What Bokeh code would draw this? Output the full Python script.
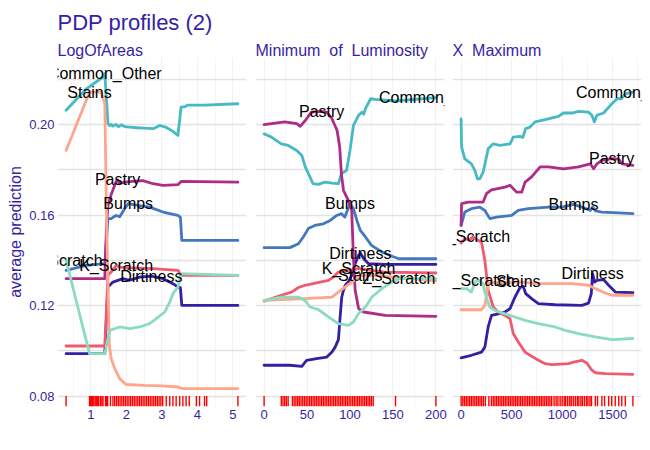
from bokeh.plotting import figure
from bokeh.models import Range1d, FixedTicker, Title, PrintfTickFormatter
from bokeh.layouts import row
from bokeh.embed import file_html
from bokeh.resources import INLINE
from bokeh.core.properties import value

# ---------------- data ----------------
CLASSES = ["Bumps", "Dirtiness", "K_Scratch", "Other_Faults", "Pastry", "Stains", "Z_Scratch"]
LABELS = ["Bumps", "Dirtiness", "K_Scratch", "Common_Other", "Pastry", "Stains", "Z_Scratch"]
COLORS = ["#4378bf", "#371ea3", "#f05a71", "#46bac2", "#ae2c87", "#ffa58c", "#8bdcbe"]

PANEL_TITLES = ["LogOfAreas", "Minimum\u00a0\u00a0of\u00a0\u00a0Luminosity", "X\u00a0\u00a0Maximum"]
MAIN_TITLE = "PDP profiles (2)"
Y_LABEL = "average prediction"
Y_TICKS = [0.08, 0.12, 0.16, 0.20]
Y_MINOR = [0.10, 0.14, 0.18, 0.22]

# --- panel 1: LogOfAreas ---
LOA_X_TICKS = [1, 2, 3, 4, 5]
LOA_X_MINOR = [0.5, 1.5, 2.5, 3.5, 4.5]
LOA_BUMPS_X = [0.30, 0.87, 1.39, 1.48, 1.57, 1.62, 1.71, 1.81, 1.95, 2.05, 2.32, 2.65, 3.03, 3.45, 3.52, 3.56, 5.14]
LOA_BUMPS_Y = [0.1356, 0.1378, 0.1385, 0.1584, 0.1584, 0.1590, 0.1598, 0.1592, 0.1628, 0.1650, 0.1643, 0.1635, 0.1613, 0.1598, 0.1590, 0.1488, 0.1488]
LOA_DIRT_X = [0.30, 1.39, 1.48, 1.53, 1.62, 1.90, 2.09, 2.37, 2.70, 3.03, 3.31, 3.45, 3.52, 3.56, 5.14]
LOA_DIRT_Y = [0.0988, 0.0988, 0.1290, 0.1290, 0.1304, 0.1319, 0.1312, 0.1326, 0.1330, 0.1319, 0.1297, 0.1282, 0.1280, 0.1201, 0.1201]
LOA_KSCR_X = [0.30, 1.39, 1.48, 1.57, 1.71, 1.81, 2.28, 2.75, 3.45, 3.54, 5.14]
LOA_KSCR_Y = [0.1022, 0.1022, 0.1334, 0.1348, 0.1378, 0.1370, 0.1366, 0.1363, 0.1356, 0.1334, 0.1334]
LOA_OTHER_X = [0.30, 0.87, 1.34, 1.39, 1.48, 1.52, 1.57, 1.62, 1.70, 1.78, 1.85, 1.95, 2.09, 2.30, 2.50, 2.75, 2.94, 3.10, 3.30, 3.45, 3.54, 3.65, 3.73, 4.20, 5.14]
LOA_OTHER_Y = [0.2062, 0.2157, 0.2209, 0.2224, 0.2003, 0.1995, 0.2000, 0.1992, 0.2000, 0.1990, 0.1998, 0.1990, 0.1988, 0.1985, 0.1983, 0.1981, 0.1995, 0.1988, 0.1970, 0.1951, 0.2076, 0.2078, 0.2085, 0.2085, 0.2091]
LOA_PASTRY_X = [0.30, 1.39, 1.44, 1.48, 1.57, 1.67, 1.71, 1.75, 1.81, 1.95, 2.18, 2.46, 2.75, 3.03, 3.45, 3.54, 5.14]
LOA_PASTRY_Y = [0.1319, 0.1319, 0.1560, 0.1642, 0.1690, 0.1731, 0.1748, 0.1755, 0.1738, 0.1745, 0.1748, 0.1752, 0.1738, 0.1731, 0.1734, 0.1748, 0.1745]
LOA_STAINS_X = [0.30, 0.96, 1.29, 1.39, 1.45, 1.52, 1.57, 1.67, 1.81, 1.99, 2.50, 3.00, 3.45, 3.59, 5.14]
LOA_STAINS_Y = [0.1885, 0.2142, 0.2142, 0.2091, 0.1500, 0.1025, 0.0966, 0.0922, 0.0878, 0.0852, 0.0848, 0.0846, 0.0841, 0.0834, 0.0834]
LOA_ZSCR_X = [0.30, 0.96, 1.39, 1.53, 1.81, 2.09, 2.37, 2.65, 2.84, 3.08, 3.22, 3.31, 3.45, 3.54, 5.14]
LOA_ZSCR_Y = [0.1400, 0.0988, 0.0988, 0.1091, 0.1106, 0.1099, 0.1106, 0.1121, 0.1143, 0.1172, 0.1216, 0.1253, 0.1282, 0.1341, 0.1334]
LOA_RUG = [0.30, 0.96, 0.99, 1.02, 1.05, 1.08, 1.12, 1.15, 1.19, 1.22, 1.27, 1.31, 1.34, 1.41, 1.44,
           1.47, 1.55, 1.62, 1.67, 1.72, 1.77, 1.82, 1.87, 1.92, 1.97, 2.02, 2.07, 2.12, 2.17, 2.22,
           2.27, 2.32, 2.37, 2.42, 2.47, 2.52, 2.57, 2.62, 2.67, 2.72, 2.77, 2.82, 2.87, 2.92, 2.97,
           3.02, 3.12, 3.22, 3.31, 3.40, 3.50, 3.59, 3.68, 3.77, 3.97, 4.06, 4.20, 4.26, 5.14]

# --- panel 2: Minimum_of_Luminosity ---
MOL_X_TICKS = [0, 50, 100, 150, 200]
MOL_X_MINOR = [25, 75, 125, 175]
MOL_BUMPS_X = [0, 30, 40, 45.6, 51.5, 59, 69, 77, 84.5, 90, 94, 100, 104, 108, 112, 118, 125, 137, 149, 157, 200]
MOL_BUMPS_Y = [0.1456, 0.1456, 0.1473, 0.1503, 0.1540, 0.1554, 0.1561, 0.1576, 0.1598, 0.1606, 0.1591, 0.1650, 0.1628, 0.1576, 0.1532, 0.1503, 0.1466, 0.1437, 0.1418, 0.1407, 0.1407]
MOL_DIRT_X = [0, 30, 44, 49.5, 61, 73, 79, 82.7, 86.5, 88.5, 90.4, 92.4, 94.4, 98, 102, 106, 110, 112, 116, 121.6, 141, 200]
MOL_DIRT_Y = [0.0937, 0.0937, 0.0932, 0.0959, 0.0966, 0.0973, 0.0995, 0.1017, 0.1050, 0.1150, 0.1238, 0.1268, 0.1290, 0.1304, 0.1334, 0.1385, 0.1422, 0.1432, 0.1407, 0.1385, 0.1382, 0.1382]
MOL_KSCR_X = [0, 20, 32, 40, 47.6, 57, 65, 75, 80.7, 86.5, 98, 110, 125.5, 141, 200]
MOL_KSCR_Y = [0.1220, 0.1246, 0.1260, 0.1280, 0.1290, 0.1297, 0.1304, 0.1312, 0.1326, 0.1348, 0.1356, 0.1363, 0.1356, 0.1348, 0.1344]
MOL_OTHER_X = [0, 8.5, 20, 28, 38, 44, 48, 53.5, 57, 63, 71, 79, 86.5, 90, 96, 100, 104, 110, 114, 116, 118, 124, 129.5, 153, 200]
MOL_OTHER_Y = [0.1958, 0.1944, 0.1914, 0.1907, 0.1885, 0.1863, 0.1811, 0.1767, 0.1738, 0.1735, 0.1745, 0.1741, 0.1738, 0.1782, 0.1797, 0.1885, 0.1995, 0.2040, 0.2054, 0.2045, 0.2069, 0.2113, 0.2110, 0.2103, 0.2118]
MOL_PASTRY_X = [0, 24, 38, 42, 48, 55, 67, 73, 79, 85, 88, 90, 92.4, 98, 102, 104, 106, 110, 116, 141, 200]
MOL_PASTRY_Y = [0.1999, 0.2011, 0.2003, 0.1991, 0.2017, 0.2054, 0.2057, 0.2054, 0.2025, 0.1973, 0.1900, 0.1780, 0.1709, 0.1665, 0.1620, 0.1414, 0.1268, 0.1187, 0.1172, 0.1157, 0.1153]
MOL_STAINS_X = [0, 47.6, 79, 86.5, 94, 102, 108, 112, 133, 160.6, 200]
MOL_STAINS_Y = [0.1223, 0.1231, 0.1238, 0.1260, 0.1282, 0.1304, 0.1319, 0.1334, 0.1332, 0.1323, 0.1309]
MOL_ZSCR_X = [0, 20, 40, 47.6, 53.5, 63, 75, 86.5, 98, 104, 110, 118, 125.5, 137, 149, 157, 200]
MOL_ZSCR_Y = [0.1223, 0.1238, 0.1238, 0.1223, 0.1194, 0.1183, 0.1150, 0.1121, 0.1113, 0.1128, 0.1165, 0.1194, 0.1238, 0.1275, 0.1304, 0.1319, 0.1319]
MOL_RUG = [0, 20, 22, 24, 26, 28, 33, 35, 37, 39, 41, 43, 45, 47, 49, 51, 53, 55, 57, 59, 61, 63,
           65, 67, 69, 71, 73, 75, 77, 79, 81, 83, 85, 87, 89, 91, 93, 95, 97, 99, 101, 103, 105,
           107, 109, 111, 113, 115, 117, 119, 121, 123, 125, 127, 153, 200]

# --- panel 3: X_Maximum ---
XMX_X_TICKS = [0, 500, 1000, 1500]
XMX_X_MINOR = [250, 750, 1250, 1750]
XMX_BUMPS_X = [0, 37, 102, 186, 235, 285, 351, 500, 566, 665, 864, 996, 1112, 1195, 1278, 1301, 1330, 1393, 1559, 1700]
XMX_BUMPS_Y = [0.1554, 0.1613, 0.1628, 0.1635, 0.1620, 0.1584, 0.1591, 0.1598, 0.1620, 0.1628, 0.1635, 0.1635, 0.1647, 0.1635, 0.1620, 0.1635, 0.1618, 0.1613, 0.1609, 0.1606]
XMX_DIRT_X = [0, 102, 202, 235, 268, 301, 368, 434, 484, 533, 583, 616, 639, 698, 765, 930, 1195, 1261, 1288, 1301, 1321, 1344, 1410, 1460, 1526, 1700]
XMX_DIRT_Y = [0.0970, 0.0981, 0.0995, 0.1017, 0.1106, 0.1157, 0.1164, 0.1172, 0.1187, 0.1238, 0.1280, 0.1285, 0.1253, 0.1231, 0.1209, 0.1204, 0.1201, 0.1211, 0.1253, 0.1341, 0.1304, 0.1312, 0.1315, 0.1290, 0.1260, 0.1257]
XMX_KSCR_X = [0, 37, 80, 119, 169, 202, 235, 268, 318, 368, 434, 484, 516, 566, 633, 682, 765, 831, 897, 1063, 1112, 1195, 1244, 1294, 1328, 1427, 1700]
XMX_KSCR_Y = [0.1476, 0.1496, 0.1490, 0.1503, 0.1488, 0.1481, 0.1400, 0.1268, 0.1194, 0.1172, 0.1157, 0.1143, 0.1077, 0.1040, 0.0995, 0.0981, 0.0959, 0.0944, 0.0940, 0.0944, 0.0951, 0.0959, 0.0947, 0.0915, 0.0904, 0.0900, 0.0897]
XMX_OTHER_X = [0, 5, 37, 102, 136, 162, 186, 218, 268, 318, 384, 484, 516, 583, 610, 639, 682, 732, 831, 963, 1013, 1100, 1162, 1261, 1294, 1318, 1344, 1410, 1477, 1543, 1586, 1626, 1700]
XMX_OTHER_Y = [0.2024, 0.1900, 0.1848, 0.1826, 0.1797, 0.1760, 0.1760, 0.1789, 0.1892, 0.1914, 0.1907, 0.1914, 0.1944, 0.1947, 0.1942, 0.1981, 0.1988, 0.2011, 0.2021, 0.2035, 0.2050, 0.2050, 0.2057, 0.2054, 0.2040, 0.2011, 0.2040, 0.2050, 0.2084, 0.2113, 0.2113, 0.2135, 0.2142]
XMX_PASTRY_X = [0, 5, 70, 218, 251, 301, 434, 484, 549, 600, 633, 698, 782, 864, 1013, 1162, 1278, 1311, 1344, 1393, 1460, 1490, 1559, 1592, 1700]
XMX_PASTRY_Y = [0.1554, 0.1650, 0.1657, 0.1657, 0.1694, 0.1711, 0.1723, 0.1731, 0.1701, 0.1701, 0.1745, 0.1768, 0.1812, 0.1812, 0.1804, 0.1812, 0.1826, 0.1804, 0.1826, 0.1841, 0.1846, 0.1849, 0.1847, 0.1826, 0.1819]
XMX_STAINS_X = [0, 202, 235, 268, 301, 434, 566, 765, 1096, 1261, 1328, 1427, 1493, 1700]
XMX_STAINS_Y = [0.1182, 0.1182, 0.1201, 0.1297, 0.1303, 0.1300, 0.1305, 0.1297, 0.1297, 0.1290, 0.1275, 0.1256, 0.1246, 0.1246]
XMX_ZSCR_X = [0, 53, 102, 136, 169, 218, 235, 261, 285, 335, 434, 533, 633, 765, 930, 1030, 1162, 1328, 1493, 1700]
XMX_ZSCR_Y = [0.1275, 0.1275, 0.1260, 0.1304, 0.1312, 0.1297, 0.1260, 0.1223, 0.1194, 0.1179, 0.1164, 0.1150, 0.1135, 0.1121, 0.1106, 0.1091, 0.1077, 0.1062, 0.1050, 0.1055]
XMX_RUG = [0, 17, 34, 51, 68, 85, 102, 119, 136, 153, 170, 187, 204, 221, 240, 275, 300, 318, 335,
           352, 369, 386, 403, 420, 437, 454, 471, 488, 505, 522, 539, 556, 573, 590, 607, 624, 641,
           658, 675, 692, 709, 726, 743, 760, 777, 794, 811, 828, 845, 862, 879, 896, 920, 940, 958,
           980, 1000, 1020, 1035, 1055, 1075, 1090, 1110, 1130, 1150, 1165, 1185, 1200, 1220, 1240,
           1255, 1275, 1290, 1328, 1350, 1393, 1420, 1460, 1490, 1525, 1560, 1590, 1625, 1700]

# ---------------- styling ----------------
FONT = "Liberation Sans"
THEME = "#371ea3"
Y_RANGE = (0.0755, 0.2295)
FRAME_W, FRAME_H = 189, 349


def style_title(t, size, standoff):
    t.text_font = FONT
    t.text_font_size = size
    t.text_font_style = "normal"
    t.text_color = THEME
    t.align = "left"
    t.standoff = standoff


def build_panel(curves, rug, x_range, x_ticks, x_minor, panel_title, first, borders):
    left, right = borders
    p = figure(frame_width=FRAME_W, frame_height=FRAME_H,
               x_range=Range1d(*x_range), y_range=Range1d(*Y_RANGE),
               output_backend="svg", toolbar_location=None,
               min_border_top=57, min_border_bottom=22,
               min_border_left=left, min_border_right=right)
    p.outline_line_color = None
    p.background_fill_color = "white"
    p.border_fill_color = "white"

    if first:
        p.title.text = MAIN_TITLE
        style_title(p.title, "22px", 12)
        strip = Title(text=panel_title)
        style_title(strip, "16px", -2)
        p.add_layout(strip, "above")
    else:
        p.title.text = panel_title
        style_title(p.title, "16px", -2)

    # axes
    p.xaxis.ticker = FixedTicker(ticks=x_ticks, minor_ticks=x_minor)
    p.yaxis.ticker = FixedTicker(ticks=Y_TICKS, minor_ticks=Y_MINOR)
    p.yaxis.formatter = PrintfTickFormatter(format="%.2f")
    for ax in (p.xaxis, p.yaxis):
        ax.axis_line_color = None
        ax.major_tick_line_color = None
        ax.minor_tick_line_color = None
        ax.major_tick_out = 0
        ax.minor_tick_out = 0
        ax.major_label_text_font = FONT
        ax.major_label_text_font_size = "13px"
        ax.major_label_text_color = THEME
    p.xaxis.major_label_standoff = 3
    if first:
        p.yaxis.major_label_standoff = 3
        p.yaxis.axis_label = Y_LABEL
        p.yaxis.axis_label_text_font = FONT
        p.yaxis.axis_label_text_font_size = "16px"
        p.yaxis.axis_label_text_font_style = "normal"
        p.yaxis.axis_label_text_color = THEME
        p.yaxis.axis_label_standoff = 2
    else:
        p.yaxis.visible = False

    # grids
    p.ygrid.ticker = FixedTicker(ticks=Y_TICKS, minor_ticks=Y_MINOR)
    p.xgrid.ticker = FixedTicker(ticks=x_ticks, minor_ticks=x_minor)
    p.ygrid.grid_line_color = "#e3e3e3"
    p.ygrid.grid_line_width = 1.3
    p.ygrid.minor_grid_line_color = "#e3e3e3"
    p.ygrid.minor_grid_line_width = 1.3
    p.xgrid.grid_line_color = "#f1f1f1"
    p.xgrid.grid_line_width = 1
    p.xgrid.minor_grid_line_color = "#f5f5f5"
    p.xgrid.minor_grid_line_width = 1

    # rug
    y0 = Y_RANGE[0]
    y1 = Y_RANGE[0] + 0.03 * (Y_RANGE[1] - Y_RANGE[0])
    p.segment(x0=rug, y0=[y0] * len(rug), x1=rug, y1=[y1] * len(rug),
              line_color="#ff0000", line_width=1.4)

    # profiles
    for (xs, ys), color in zip(curves, COLORS):
        p.line(xs, ys, line_color=color, line_width=2.8, line_join="round", line_cap="round")

    # labels at the maximum of each profile
    lx, ly = [], []
    for xs, ys in curves:
        i = max(range(len(ys)), key=lambda k: (ys[k], -k))
        lx.append(xs[i])
        ly.append(ys[i])
    p.text(x=lx, y=ly, text=LABELS, text_align="center", text_baseline="alphabetic",
           text_font=value(FONT), text_font_size="16px", text_color="black")
    return p


p1 = build_panel([(LOA_BUMPS_X, LOA_BUMPS_Y), (LOA_DIRT_X, LOA_DIRT_Y), (LOA_KSCR_X, LOA_KSCR_Y),
                  (LOA_OTHER_X, LOA_OTHER_Y), (LOA_PASTRY_X, LOA_PASTRY_Y), (LOA_STAINS_X, LOA_STAINS_Y),
                  (LOA_ZSCR_X, LOA_ZSCR_Y)],
                 LOA_RUG, (0.058, 5.382), LOA_X_TICKS, LOA_X_MINOR, PANEL_TITLES[0], True, (57, 5))
p2 = build_panel([(MOL_BUMPS_X, MOL_BUMPS_Y), (MOL_DIRT_X, MOL_DIRT_Y), (MOL_KSCR_X, MOL_KSCR_Y),
                  (MOL_OTHER_X, MOL_OTHER_Y), (MOL_PASTRY_X, MOL_PASTRY_Y), (MOL_STAINS_X, MOL_STAINS_Y),
                  (MOL_ZSCR_X, MOL_ZSCR_Y)],
                 MOL_RUG, (-10, 210), MOL_X_TICKS, MOL_X_MINOR, PANEL_TITLES[1], False, (4, 4))
p3 = build_panel([(XMX_BUMPS_X, XMX_BUMPS_Y), (XMX_DIRT_X, XMX_DIRT_Y), (XMX_KSCR_X, XMX_KSCR_Y),
                  (XMX_OTHER_X, XMX_OTHER_Y), (XMX_PASTRY_X, XMX_PASTRY_Y), (XMX_STAINS_X, XMX_STAINS_Y),
                  (XMX_ZSCR_X, XMX_ZSCR_Y)],
                 XMX_RUG, (-85, 1785), XMX_X_TICKS, XMX_X_MINOR, PANEL_TITLES[2], False, (4, 2))

layout = row(p1, p2, p3, spacing=0)
open("out.html", "w").write(file_html(layout, INLINE))
